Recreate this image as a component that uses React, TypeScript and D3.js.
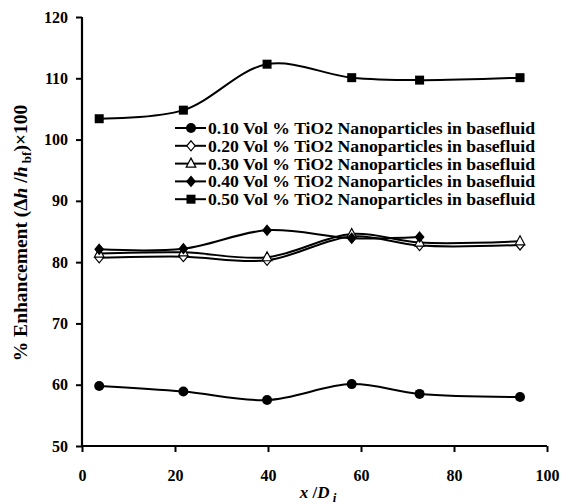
import React, { useEffect, useRef } from 'react';
import * as d3 from 'd3';

// x/Di positions of the measurements
const xValues = [3.7, 21.8, 39.8, 58, 72.6, 94.2];

const s010 = [59.8, 58.9, 57.5, 60.1, 58.5, 58.0];
const s020 = [80.7, 80.9, 80.3, 84.2, 82.7, 82.8];
const s030 = [81.4, 81.6, 80.8, 84.6, 83.2, 83.4];
const s040 = [82.1, 82.2, 85.2, 83.9, 84.1];
const s050 = [103.4, 104.8, 112.3, 110.1, 109.7, 110.1];

const seriesNames = [
    '0.10 Vol % TiO2 Nanoparticles in basefluid',
    '0.20 Vol % TiO2 Nanoparticles in basefluid',
    '0.30 Vol % TiO2 Nanoparticles in basefluid',
    '0.40 Vol % TiO2 Nanoparticles in basefluid',
    '0.50 Vol % TiO2 Nanoparticles in basefluid',
];
const markerTypes = ['circle', 'openDiamond', 'openTriangle', 'diamond', 'square'];
const seriesValues = [s010, s020, s030, s040, s050];

const xTicks = [0, 20, 40, 60, 80, 100];
const yTicks = [50, 60, 70, 80, 90, 100, 110, 120];

const font = '"Liberation Serif", "Times New Roman", serif';

export default function App() {
    const ref = useRef<SVGSVGElement>(null);
    const width = 582;
    const height = 504;
    const margin = { top: 17, right: 35, bottom: 58, left: 82 };

    useEffect(() => {
        const svg = d3.select(ref.current);
        svg.selectAll('*').remove();

        const xScale = d3.scaleLinear()
            .domain([0, 100])
            .range([margin.left, width - margin.right]);
        const yScale = d3.scaleLinear()
            .domain([50, 120])
            .range([height - margin.bottom, margin.top]);

        // axes
        const xAxis = d3.axisBottom(xScale).tickValues(xTicks).tickSize(6).tickPadding(18);
        const yAxis = d3.axisLeft(yScale).tickValues(yTicks).tickSize(6).tickPadding(8);
        const gx = svg.append('g')
            .attr('transform', 'translate(0,' + (height - margin.bottom) + ')')
            .call(xAxis);
        const gy = svg.append('g')
            .attr('transform', 'translate(' + margin.left + ',0)')
            .call(yAxis);
        [gx, gy].forEach(g => {
            g.select('.domain').attr('stroke', '#000').attr('stroke-width', 2.2);
            g.selectAll('.tick line').attr('stroke', '#000').attr('stroke-width', 2);
            g.selectAll('.tick text')
                .attr('fill', '#000')
                .style('font-family', font)
                .style('font-weight', 'bold')
                .style('font-size', '16px');
        });
        // remove outer tick caps
        gx.select('.domain').attr('d', 'M' + xScale(0) + ',0H' + xScale(100));
        gy.select('.domain').attr('d', 'M0,' + yScale(50) + 'V' + yScale(120));

        const drawMarker = (g: any, type: string, cx: number, cy: number) => {
            switch (type) {
                case 'circle':
                    g.append('circle').attr('cx', cx).attr('cy', cy).attr('r', 5).attr('fill', '#000');
                    break;
                case 'square':
                    g.append('rect').attr('x', cx - 4.5).attr('y', cy - 4.5)
                        .attr('width', 9).attr('height', 9).attr('fill', '#000');
                    break;
                case 'diamond':
                case 'openDiamond':
                    g.append('path')
                        .attr('d', `M${cx},${cy - 5}L${cx + 4.2},${cy}L${cx},${cy + 5}L${cx - 4.2},${cy}Z`)
                        .attr('fill', type === 'diamond' ? '#000' : '#fff')
                        .attr('stroke', '#000').attr('stroke-width', 1.2);
                    break;
                case 'openTriangle':
                    g.append('path')
                        .attr('d', `M${cx},${cy - 5.5}L${cx + 4.8},${cy + 3.5}L${cx - 4.8},${cy + 3.5}Z`)
                        .attr('fill', '#fff')
                        .attr('stroke', '#000').attr('stroke-width', 1.2);
                    break;
            }
        };

        const line = d3.line<number>()
            .x((d, i) => xScale(xValues[i]))
            .y(d => yScale(d))
            .curve(d3.curveCatmullRom.alpha(0.5));

        const plot = svg.append('g');
        seriesValues.forEach((vals) => {
            plot.append('path')
                .datum(vals)
                .attr('d', line)
                .attr('fill', 'none')
                .attr('stroke', '#000')
                .attr('stroke-width', 2);
        });
        seriesValues.forEach((vals, si) => {
            vals.forEach((v, i) => drawMarker(plot, markerTypes[si], xScale(xValues[i]), yScale(v)));
        });

        // legend
        const legend = svg.append('g');
        seriesNames.forEach((name, i) => {
            const y = 128 + i * 17.8;
            legend.append('line')
                .attr('x1', 175).attr('x2', 206)
                .attr('y1', y).attr('y2', y)
                .attr('stroke', '#000').attr('stroke-width', 2);
            drawMarker(legend, markerTypes[i], 191, y);
            legend.append('text')
                .attr('x', 208)
                .attr('y', y + 6)
                .attr('textLength', 327)
                .attr('lengthAdjust', 'spacingAndGlyphs')
                .style('font-family', font)
                .style('font-weight', 'bold')
                .style('font-size', '17px')
                .text(name);
        });

        // x axis title
        const xt = svg.append('text')
            .attr('x', 318)
            .attr('y', 498)
            .attr('text-anchor', 'middle')
            .style('font-family', font)
            .style('font-weight', 'bold')
            .style('font-size', '17px');
        xt.append('tspan').style('font-style', 'italic').text('x');
        xt.append('tspan').text(' /');
        xt.append('tspan').style('font-style', 'italic').text('D');
        xt.append('tspan').style('font-style', 'italic').style('font-size', '13px').attr('dy', 4).text(' i');

        // y axis title
        const yt = svg.append('text')
            .attr('text-anchor', 'middle')
            .attr('transform', 'translate(27,233) rotate(-90)')
            .style('font-family', font)
            .style('font-weight', 'bold')
            .style('font-size', '19.5px');
        yt.append('tspan').text('% Enhancement (Δ');
        yt.append('tspan').style('font-style', 'italic').text('h');
        yt.append('tspan').text(' /');
        yt.append('tspan').style('font-style', 'italic').text('h');
        yt.append('tspan').style('font-size', '13px').attr('dy', 4).text(' bf');
        yt.append('tspan').attr('dy', -4).text(')×100');
    }, []);

    return (
        <svg ref={ref} width={width} height={height} style={{ display: 'block', position: 'absolute', left: 0, top: 0 }}></svg>
    );
}
